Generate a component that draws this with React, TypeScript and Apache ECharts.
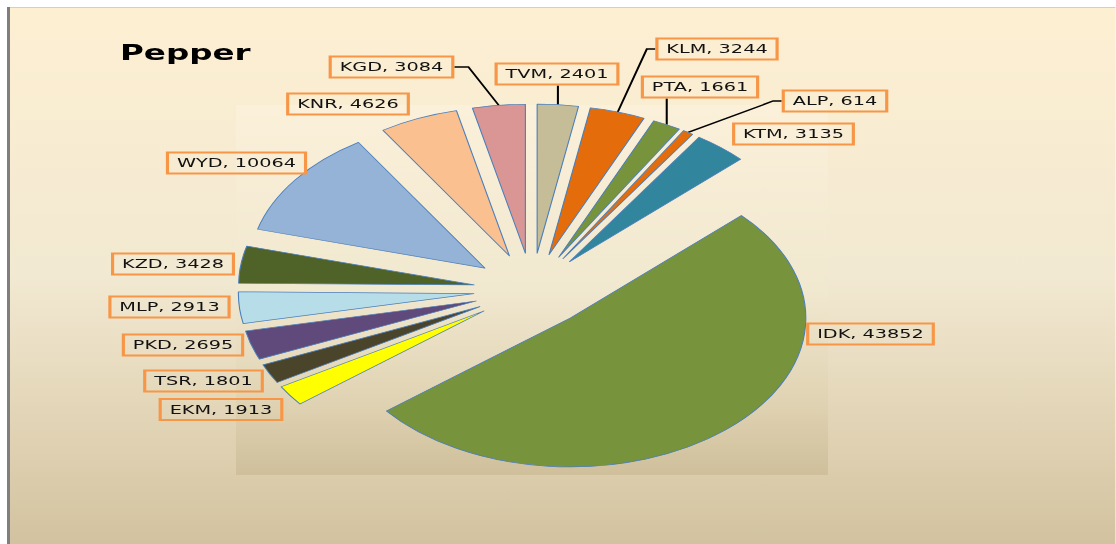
import React, { useEffect, useRef } from 'react';
import * as echarts from 'echarts';

// ---- data ----
const categories = ['TVM', 'KLM', 'PTA', 'ALP', 'KTM', 'IDK', 'EKM', 'TSR', 'PKD', 'MLP', 'KZD', 'WYD', 'KNR', 'KGD'];
const values = [2401, 3244, 1661, 614, 3135, 43852, 1913, 1801, 2695, 2913, 3428, 10064, 4626, 3084];
const sliceColors = ['#c4bd97', '#e46c0a', '#77933c', '#e46c0a', '#31859c', '#77933c', '#ffff00', '#4a452a', '#604a7b', '#b7dee8', '#4f6228', '#95b3d7', '#fac090', '#d99694'];
const chartTitle = 'Pepper';

// ---- layout: the chart is drawn in an unstretched space and stretched horizontally to the page ----
const PAGE_W = 1116;
const H = 544;
const SX = 1.58;
const W = PAGE_W / SX;
const px = (x: number) => x / SX; // page pixels -> chart space
const CENTER: [number, number] = [px(532), 290];
const RADIUS = 149;
const OFFSET = 37;

// label box centres, in page pixels
const labelAnchors: Record<string, [number, number]> = {
  KGD: [391.5, 67],
  TVM: [557, 74],
  KLM: [717, 49],
  PTA: [700, 87],
  ALP: [835, 101],
  KTM: [793.5, 134],
  KNR: [348, 104],
  WYD: [236.5, 163],
  KZD: [173, 264],
  MLP: [169.5, 307],
  PKD: [183, 345],
  TSR: [203.5, 381],
  EKM: [221, 409.5],
  IDK: [870.5, 334],
};
const leaderSides: Record<string, string> = { KGD: 'right', TVM: 'bottom', KLM: 'left', PTA: 'bottom', ALP: 'left' };

export default function App() {
  const ref = useRef<HTMLDivElement>(null);

  useEffect(() => {
    if (!ref.current) return;
    const chart = echarts.init(ref.current, null, { renderer: 'svg' });

    const total = values.reduce((a, b) => a + b, 0);
    const before: number[] = [];
    let acc = 0;
    values.forEach((v) => {
      before.push(acc);
      acc += v;
    });

    const bgGrad = new echarts.graphic.LinearGradient(0, 0, 0, 1, [
      { offset: 0, color: '#fdefd2' },
      { offset: 0.5, color: '#f2e9d2' },
      { offset: 0.75, color: '#e3d6b8' },
      { offset: 1, color: '#d2c29f' },
    ]);
    const plotGrad = new echarts.graphic.LinearGradient(0, 0, 0, 1, [
      { offset: 0, color: '#fbf0d9' },
      { offset: 0.5, color: '#f1e8d0' },
      { offset: 0.8, color: '#e0d3b3' },
      { offset: 1, color: '#cfbf9b' },
    ]);

    const labelStyle = {
      show: true,
      position: 'outside',
      formatter: '{b}, {c}',
      color: '#111',
      fontFamily: 'DejaVu Sans',
      fontSize: 12.2,
      lineHeight: 15,
      borderColor: '#f79646',
      borderWidth: 2,
      padding: [3, 6],
    };

    // one exploded slice per pie series: the library computes each sector's angle from the values
    const series = categories.map((name, i) => {
      const midDeg = ((before[i] + values[i] / 2) / total) * 360; // clockwise from 12 o'clock
      const rad = (midDeg * Math.PI) / 180;
      const cx = CENTER[0] + OFFSET * Math.sin(rad);
      const cy = CENTER[1] - OFFSET * Math.cos(rad);
      const side = leaderSides[name];
      return {
        type: 'pie',
        name,
        center: [cx, cy],
        radius: RADIUS,
        startAngle: 90 - (before[i] / total) * 360,
        clockwise: true,
        avoidLabelOverlap: false,
        emphasis: { disabled: true },
        silent: true,
        itemStyle: { borderColor: '#4a7ebb', borderWidth: 0.7 },
        label: labelStyle,
        labelLine: { show: !!side, smooth: false, lineStyle: { color: '#000', width: 1.3 } },
        labelLayout: (params: any) => {
          if (params.dataIndex !== 0) return {};
          const x = px(labelAnchors[name][0]);
          const y = labelAnchors[name][1];
          const w = params.labelRect.width;
          const h = params.labelRect.height;
          const out: any = { x, y, align: 'center', verticalAlign: 'middle', hideOverlap: false };
          if (side) {
            const ax = cx + RADIUS * Math.sin(rad);
            const ay = cy - RADIUS * Math.cos(rad);
            let pts: number[][];
            if (side === 'right') {
              const bx = x + w / 2;
              pts = [[bx, y], [bx + px(14), y], [ax, ay]];
            } else if (side === 'left') {
              const bx = x - w / 2;
              pts = [[bx, y], [bx - px(8.5), y], [ax, ay]];
            } else {
              const by = y + h / 2;
              pts = [[ax, by], [ax, by], [ax, ay]];
            }
            out.labelLinePoints = pts;
          }
          return out;
        },
        data: [
          { name, value: values[i], itemStyle: { color: sliceColors[i] } },
          {
            name: '',
            value: total - values[i],
            itemStyle: { color: 'rgba(0,0,0,0)', borderWidth: 0 },
            label: { show: false },
            labelLine: { show: false },
          },
        ],
      };
    });

    const option: any = {
      animation: false,
      title: {
        text: chartTitle,
        left: px(120),
        top: 42,
        padding: 0,
        textStyle: { fontFamily: 'DejaVu Sans', fontWeight: 'bold', fontSize: 20.6, color: '#000' },
      },
      graphic: [
        { type: 'rect', silent: true, shape: { x: px(7), y: 7, width: W, height: 1 }, style: { fill: '#cfcfcf' } },
        { type: 'rect', silent: true, shape: { x: px(10), y: 8, width: W - px(10), height: H - 8 }, style: { fill: bgGrad } },
        { type: 'rect', silent: true, shape: { x: px(7), y: 7, width: px(3), height: H - 7 }, style: { fill: '#7f7f7f' } },
        { type: 'rect', silent: true, shape: { x: px(236), y: 105, width: px(592), height: 370 }, style: { fill: plotGrad } },
      ],
      series,
    };

    chart.setOption(option);
    return () => chart.dispose();
  }, []);

  return (
    <div
      ref={ref}
      style={{
        position: 'fixed',
        left: 0,
        top: 0,
        width: W,
        height: H,
        transform: `scaleX(${SX})`,
        transformOrigin: '0 0',
      }}
    />
  );
}
